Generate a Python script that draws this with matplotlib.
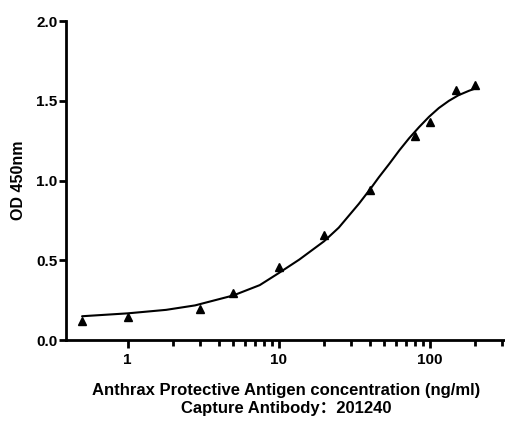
import matplotlib.pyplot as plt
from matplotlib.ticker import FixedLocator, NullFormatter

# measured points (triangles)
conc = [0.5, 1, 3, 5, 10, 20, 40, 80, 100, 150, 200]
od = [0.12, 0.146, 0.198, 0.296, 0.458, 0.66, 0.94, 1.28, 1.37, 1.57, 1.60]

# fitted curve
curve_x = [0.5, 1, 1.8, 2.8, 5, 7.5, 10, 13.7, 20, 25, 34, 41, 46, 54, 63, 73, 85, 99,
           115, 134, 155, 182, 200]
curve_y = [0.15, 0.168, 0.19, 0.218, 0.28, 0.345, 0.42, 0.505, 0.62, 0.705, 0.855, 0.955,
           1.02, 1.105, 1.19, 1.265, 1.335, 1.40, 1.455, 1.50, 1.535, 1.563, 1.577]

xticks = [1, 10, 100]
xtick_labels = ['1', '10', '100']
yticks = [0.0, 0.5, 1.0, 1.5, 2.0]
minor_x = [2, 3, 4, 5, 6, 7, 8, 9, 20, 30, 40, 50, 60, 70, 80, 90, 200, 300]

plt.rcParams['font.family'] = ['Liberation Sans', 'Noto Sans CJK SC']
plt.rcParams['font.weight'] = 'bold'

fig = plt.figure(figsize=(5.06, 4.21), dpi=100)
ax = fig.add_axes([0.130, 0.192, 0.870, 0.758])

ax.plot(curve_x, curve_y, color='black', linewidth=1.5, solid_capstyle='round', solid_joinstyle='round')
ax.plot(conc, od, linestyle='none', marker='^', color='black', markersize=6)

ax.set_xscale('log')
ax.set_xlim(0.39, 320)
ax.set_ylim(0, 2.0)

ax.xaxis.set_major_locator(FixedLocator(xticks))
ax.set_xticklabels(xtick_labels)
ax.xaxis.set_minor_locator(FixedLocator(minor_x))
ax.xaxis.set_minor_formatter(NullFormatter())
ax.set_yticks(yticks)
ax.set_yticklabels(['%.1f' % v for v in yticks])

for s in ['top', 'right']:
    ax.spines[s].set_visible(False)
for s in ['left', 'bottom']:
    ax.spines[s].set_linewidth(2)

ax.tick_params(axis='x', which='major', length=6, width=2, labelsize=11, pad=3)
ax.tick_params(axis='x', which='minor', length=4, width=2)
ax.tick_params(axis='y', which='major', length=5, width=2, labelsize=11, pad=1)
for lab in ax.get_xticklabels() + ax.get_yticklabels():
    lab.set_fontweight('bold')

ax.set_ylabel('OD 450nm', fontsize=11.5, fontweight='bold', labelpad=7)
ax.set_xlabel('Anthrax Protective Antigen concentration (ng/ml)\nCapture Antibody：201240',
              fontsize=12, fontweight='bold', labelpad=12, linespacing=1.2)

plt.savefig('out.png', dpi=100)
